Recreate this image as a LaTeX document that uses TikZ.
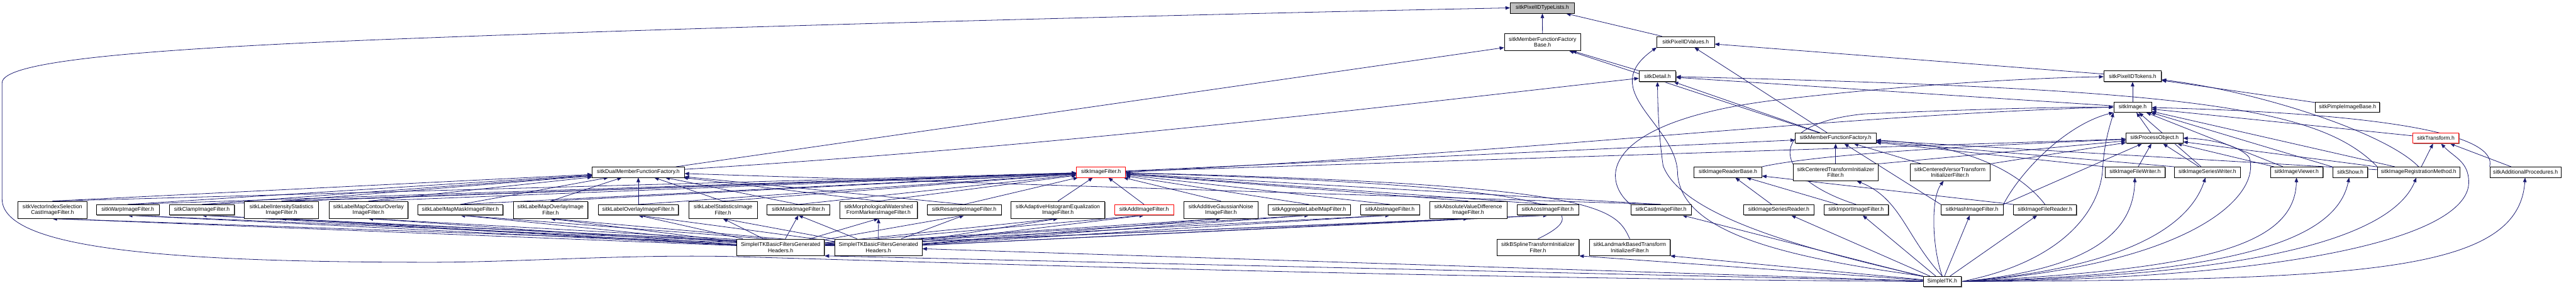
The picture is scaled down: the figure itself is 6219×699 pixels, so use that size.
\documentclass[tikz,border=0pt]{standalone}
\usepackage{fontspec}
\setmainfont{Liberation Sans}
\usetikzlibrary{arrows.meta,shadows}
\pgfdeclarelayer{bg}
\pgfsetlayers{bg,main}
\definecolor{edgec}{HTML}{191970}
\definecolor{rootc}{HTML}{BFBFBF}
\newcommand{\nfs}{\fontsize{13.2}{14.5}\selectfont}
\tikzset{
 bx/.style={draw=black, line width=1.2pt, fill=white, inner sep=0pt, align=center, font=\nfs, minimum height=25pt,
   drop shadow={shadow xshift=1.5pt, shadow yshift=-1.5pt, fill=black!50, opacity=1}},
 bxt/.style={bx, minimum height=41pt},
 rbx/.style={bx, draw=red},
 dep/.style={draw=edgec, line width=1.2pt, -{Triangle[length=11pt,width=8.5pt]}},
}
\begin{document}
\begin{tikzpicture}[x=1pt,y=-1pt]
\useasboundingbox (0,0) rectangle (6219,699);
% rank 0
\node[bx, fill=rootc, minimum width=155pt, minimum height=26pt] (tl) at (3723.5,19) {sitkPixelIDTypeLists.h};
% rank 1
\node[bxt, minimum width=184pt] (mffb) at (3724,101.5) {sitkMemberFunctionFactory\\Base.h};
\node[bx, minimum width=139pt, minimum height=26pt] (pv) at (4069.5,101) {sitkPixelIDValues.h};
% rank 2
\node[bx, minimum width=89pt, minimum height=26pt] (det) at (4001.5,184) {sitkDetail.h};
\node[bx, minimum width=139pt, minimum height=26pt] (tok) at (5148.5,184) {sitkPixelIDTokens.h};
% rank 3
\node[bx, minimum width=91pt] (img) at (5148.5,258.5) {sitkImage.h};
\node[bx, minimum width=155pt] (pimple) at (5667.5,258.5) {sitkPimpleImageBase.h};
% rank 4a
\node[bx, minimum width=195pt] (mff) at (4431.5,333.5) {sitkMemberFunctionFactory.h};
\node[bx, minimum width=137pt] (po) at (5201.5,333.5) {sitkProcessObject.h};
\node[rbx, minimum width=111pt] (tr) at (5880.5,333.5) {sitkTransform.h};
% rank 4b
\node[bx, minimum width=222pt] (dmff) at (1541,415.5) {sitkDualMemberFunctionFactory.h};
\node[rbx, minimum width=118pt] (imf) at (2658,415.5) {sitkImageFilter.h};
\node[bx, minimum width=163pt] (irb) at (4171.5,415.5) {sitkImageReaderBase.h};
\node[bx, minimum width=205pt, minimum height=40pt] (cti) at (4431.5,416) {sitkCenteredTransformInitializer\\Filter.h};
\node[bx, minimum width=193pt, minimum height=40pt] (cvti) at (4707.5,416) {sitkCenteredVersorTransform\\InitializerFilter.h};
\node[bx, minimum width=145pt] (ifw) at (5154.5,415.5) {sitkImageFileWriter.h};
\node[bx, minimum width=158pt] (isw) at (5329,415.5) {sitkImageSeriesWriter.h};
\node[bx, minimum width=127pt] (iv) at (5544.5,415.5) {sitkImageViewer.h};
\node[bx, minimum width=84pt] (show) at (5674,415.5) {sitkShow.h};
\node[bx, minimum width=198pt] (irm) at (5839,415.5) {sitkImageRegistrationMethod.h};
\node[bx, minimum width=172pt] (ap) at (6097,415.5) {sitkAdditionalProcedures.h};
% rank 5
\node[bxt, minimum width=167pt] (visc) at (126.5,506.5) {sitkVectorIndexSelection\\CastImageFilter.h};
\node[bx, minimum width=151pt] (warp) at (308.5,506.5) {sitkWarpImageFilter.h};
\node[bx, minimum width=157pt] (clamp) at (487.5,506.5) {sitkClampImageFilter.h};
\node[bxt, minimum width=179pt] (lis) at (679.5,506.5) {sitkLabelIntensityStatistics\\ImageFilter.h};
\node[bxt, minimum width=191pt] (lmco) at (889.5,506.5) {sitkLabelMapContourOverlay\\ImageFilter.h};
\node[bx, minimum width=205pt] (lmm) at (1111.5,506.5) {sitkLabelMapMaskImageFilter.h};
\node[bxt, minimum width=180pt] (lmo) at (1329,506.5) {sitkLabelMapOverlayImage\\Filter.h};
\node[bx, minimum width=194pt] (lo) at (1541,506.5) {sitkLabelOverlayImageFilter.h};
\node[bxt, minimum width=165pt] (ls) at (1745.5,506.5) {sitkLabelStatisticsImage\\Filter.h};
\node[bx, minimum width=151pt] (mask) at (1927.5,506.5) {sitkMaskImageFilter.h};
\node[bxt, minimum width=188pt] (mw) at (2121,506.5) {sitkMorphologicalWatershed\\FromMarkersImageFilter.h};
\node[bx, minimum width=179pt] (res) at (2327.5,506.5) {sitkResampleImageFilter.h};
\node[bxt, minimum width=226pt] (ahe) at (2554,506.5) {sitkAdaptiveHistogramEqualization\\ImageFilter.h};
\node[rbx, minimum width=142pt] (add) at (2762,506.5) {sitkAddImageFilter.h};
\node[bxt, minimum width=179pt] (agn) at (2947.5,506.5) {sitkAdditiveGaussianNoise\\ImageFilter.h};
\node[bx, minimum width=199pt] (agg) at (3160.5,506.5) {sitkAggregateLabelMapFilter.h};
\node[bx, minimum width=143pt] (abs) at (3355.5,506.5) {sitkAbsImageFilter.h};
\node[bxt, minimum width=187pt] (avd) at (3544.5,506.5) {sitkAbsoluteValueDifference\\ImageFilter.h};
\node[bx, minimum width=149pt] (acos) at (3736.5,506.5) {sitkAcosImageFilter.h};
\node[bx, minimum width=146pt] (cast) at (4010,506.5) {sitkCastImageFilter.h};
\node[bx, minimum width=169pt] (isr) at (4294.5,506.5) {sitkImageSeriesReader.h};
\node[bx, minimum width=156pt] (imp) at (4481,506.5) {sitkImportImageFilter.h};
\node[bx, minimum width=150pt] (hash) at (4761,506.5) {sitkHashImageFilter.h};
\node[bx, minimum width=152pt] (ifr) at (4937,506.5) {sitkImageFileReader.h};
% rank 6
\node[bx, minimum width=211pt, minimum height=40pt] (gh1) at (1884.5,597) {SimpleITKBasicFiltersGenerated\\Headers.h};
\node[bx, minimum width=211pt, minimum height=40pt] (gh2) at (2120.5,597) {SimpleITKBasicFiltersGenerated\\Headers.h};
\node[bx, minimum width=198pt, minimum height=40pt] (bsti) at (3713,597) {sitkBSplineTransformInitializer\\Filter.h};
\node[bx, minimum width=195pt, minimum height=40pt] (lbti) at (3934.5,597) {sitkLandmarkBasedTransform\\InitializerFilter.h};
% rank 7
\node[bx, minimum width=92pt] (sitk) at (4689,679.5) {SimpleITK.h};

\begin{pgfonlayer}{bg}
\foreach \f in {visc,warp,clamp,lis,lmco,lmm,lmo,lo,ls,mask,mw,res,ahe,add,agn,agg,abs,avd,acos}{
  \draw[dep] (gh1) -- (\f.south);
  \draw[dep] (gh2) -- (\f.south);
  \draw[dep] (\f.north) -- (imf);
}
\draw[dep] (cast.north) -- (imf);
\foreach \f in {visc,warp,clamp,lis,lmco,lmm,lmo,lo,ls,mask,mw,res,cast}{
  \draw[dep] (\f.north) -- (dmff);
}
% core
\draw[dep] (mffb) -- (tl);
\draw[dep] (pv) -- (tl);
\draw[dep] (dmff) -- (mffb);
\draw[dep] (dmff) .. controls (2600,350) and (3400,250) .. (det);
\draw[dep] (det) -- (mffb);
\draw[dep] (mff) -- (mffb);
\draw[dep] (mff) -- (pv);
\draw[dep] (mff) -- (det);
\draw[dep] (tok) -- (pv);
\draw[dep] (img) -- (tok);
\draw[dep] (img) -- (det);
\draw[dep] (pimple) -- (tok);
\draw[dep] (po) -- (img);
\draw[dep] (tr) -- (img);
\draw[dep] (show) -- (img);
\draw[dep] (iv) -- (img);
\draw[dep] (isw) -- (img);
\draw[dep] (irm) -- (img);
\draw[dep] (ap.north west) .. controls (6030,330) and (5800,275) .. (img);
\draw[dep] (irm.north) .. controls (5760,320) and (5450,220) .. (tok);
\draw[dep] (irm) -- (tr);
\draw[dep] (ap) -- (tr);
\draw[dep] (irm) -- (po);
\draw[dep] (irm) -- (mff);
\draw[dep] (irm.north west) .. controls (5600,260) and (5300,215) .. (det);
% image filter
\draw[dep] (imf) -- (mff);
\draw[dep] (imf) -- (po);
\draw[dep] (imf.east) .. controls (3800,360) and (4400,280) .. (img.west);
\draw[dep] (bsti.north) .. controls (3850,510) and (3830,450) .. (imf);
\draw[dep] (lbti.north) .. controls (3900,500) and (3860,445) .. (imf);
\draw[dep] (cast.north west) .. controls (3860,430) and (3870,290) .. (4300,240) .. controls (4600,205) and (4900,188) .. (tok);
% readers / writers
\draw[dep] (hash.north west) -- (mff);
\draw[dep] (hash.north east) -- (po);
\draw[dep] (hash.north east) .. controls (4880,410) and (4990,300) .. (img.south west);
\draw[dep] (imp.north) .. controls (4280,430) and (4250,300) .. (4500,275) .. controls (4800,262) and (5000,258) .. (img.west);
\draw[dep] (cti) -- (mff);
\draw[dep] (cvti) -- (mff);
\draw[dep] (cti.north east) -- (po);
\draw[dep] (cvti.north east) -- (po);
\draw[dep] (irb.north east) .. controls (4400,370) and (4800,350) .. (po);
\draw[dep] (isr) -- (irb);
\draw[dep] (imp) -- (irb);
\draw[dep] (ifr.north west) -- (irb);
\draw[dep] (ifr.north) .. controls (4880,420) and (4760,350) .. (mff);
\draw[dep] (ifw) -- (po);
\draw[dep] (ifw.north west) -- (mff);
\draw[dep] (isw) -- (po);
\draw[dep] (isw.north west) -- (mff);
\draw[dep] (iv) -- (po);
% SimpleITK.h
\draw[dep] (sitk.west) .. controls (3500,672) and (2500,640) .. (1760,619) .. controls (1500,614) and (1250,633) .. (1040,633) .. controls (400,633) and (5,600) .. (5,480) -- (5,200) .. controls (5,150) and (300,118) .. (1040,91) .. controls (1800,62) and (3000,32) .. (tl.west);
\draw[dep] (sitk) -- (gh1.south east);
\draw[dep] (sitk) -- (gh2);
\draw[dep] (sitk) -- (bsti.south east);
\draw[dep] (sitk) -- (lbti.south east);
\draw[dep] (sitk) -- (cast);
\draw[dep] (sitk) -- (isr);
\draw[dep] (sitk) -- (imp);
\draw[dep] (sitk) -- (hash);
\draw[dep] (sitk) -- (ifr);
\draw[dep] (sitk.north) .. controls (4600,570) and (4590,480) .. (cti);
\draw[dep] (sitk.north) .. controls (4665,600) and (4660,480) .. (cvti);
\draw[dep] (sitk.east) .. controls (5050,650) and (5150,560) .. (ifw);
\draw[dep] (sitk.east) .. controls (4990,630) and (5070,500) .. (5076,410) .. controls (5080,340) and (5095,300) .. (img.south west);
\draw[dep] (sitk.east) .. controls (5300,640) and (5460,470) .. (5430,380) .. controls (5400,345) and (5320,335) .. (po.east);
\draw[dep] (sitk.east) .. controls (5100,650) and (5280,560) .. (isw);
\draw[dep] (sitk.east) .. controls (5300,650) and (5540,600) .. (iv);
\draw[dep] (sitk.east) .. controls (5400,660) and (5640,580) .. (show);
\draw[dep] (sitk.east) .. controls (5500,665) and (5780,560) .. (irm);
\draw[dep] (sitk.east) .. controls (5600,672) and (5960,560) .. (5960,440) .. controls (5960,390) and (5925,380) .. (tr);
\draw[dep] (sitk.east) .. controls (5700,675) and (6080,660) .. (ap);
\draw[dep] (sitk.north west) .. controls (4350,600) and (4060,520) .. (4015,400) .. controls (4005,330) and (4002,260) .. (det.south);
\draw[dep] (sitk.north west) .. controls (4300,620) and (4060,560) .. (4050,420) .. controls (4050,300) and (3850,220) .. (pv.south west);
\end{pgfonlayer}
\end{tikzpicture}
\end{document}
